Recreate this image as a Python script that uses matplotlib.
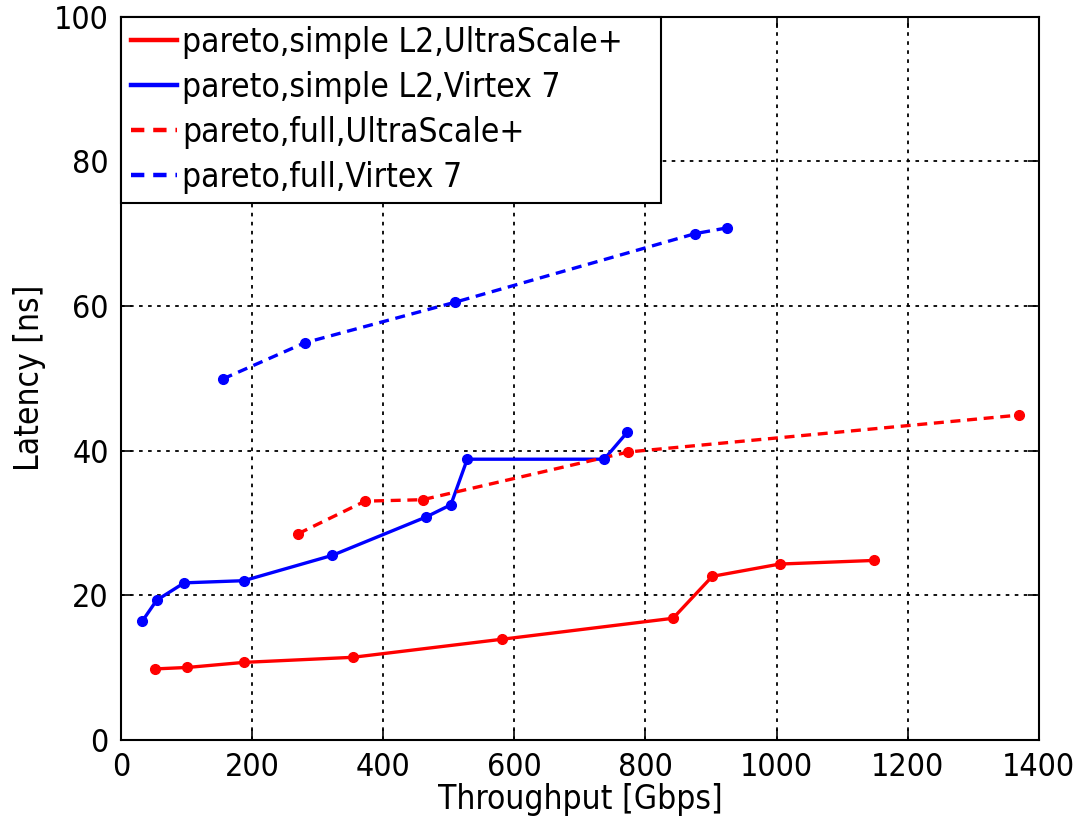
import matplotlib
matplotlib.use("Agg")
from matplotlib import pyplot as plt

# pareto,simple L2,UltraScale+
us_simple_x = [52, 101, 187, 353, 581, 842, 902, 1005, 1149]
us_simple_y = [9.8, 10.0, 10.7, 11.4, 13.9, 16.8, 22.6, 24.3, 24.8]
# pareto,simple L2,Virtex 7
v7_simple_x = [32, 54, 96, 187, 322, 465, 503, 528, 737, 772]
v7_simple_y = [16.4, 19.3, 21.7, 22.0, 25.5, 30.8, 32.5, 38.8, 38.8, 42.5]
# pareto,full,UltraScale+
us_full_x = [270, 372, 460, 774, 1370]
us_full_y = [28.5, 33.0, 33.2, 39.8, 44.9]
# pareto,full,Virtex 7
v7_full_x = [155, 280, 509, 876, 925]
v7_full_y = [49.9, 54.9, 60.5, 70.0, 70.8]

labels = ["pareto,simple L2,UltraScale+", "pareto,simple L2,Virtex 7",
          "pareto,full,UltraScale+", "pareto,full,Virtex 7"]

plt.rcParams['font.family'] = ["DejaVu Sans"]
plt.rcParams['font.stretch'] = "condensed"

fig = plt.figure(figsize=(10.83, 8.34), dpi=100)
ax = fig.add_axes([0.112, 0.113, 0.847, 0.867])

dash = (0, (3, 2))
series = [
    (us_simple_x, us_simple_y, "#ff0000", "-"),
    (v7_simple_x, v7_simple_y, "#0000ff", "-"),
    (us_full_x, us_full_y, "#ff0000", dash),
    (v7_full_x, v7_full_y, "#0000ff", dash),
]
handles = []
for (xs, ys, c, ls), lab in zip(series, labels):
    ax.plot(xs, ys, color=c, linestyle=ls, linewidth=2.4, zorder=3)
    ax.plot(xs, ys, color=c, linestyle="none", marker="o", markersize=7, zorder=4)
    h, = ax.plot([], [], color=c, linestyle=ls, linewidth=3.2, label=lab)
    handles.append(h)

ax.set_xlim(0, 1400)
ax.set_ylim(0, 100)
ax.set_xticks(range(0, 1401, 200))
ax.set_yticks(range(0, 101, 20))
ax.grid(True, color="black", linestyle=(0, (2, 3)), linewidth=1.3)
ax.tick_params(direction="in", length=8, width=1.2, labelsize=23,
               top=True, right=True, pad=9)
for s in ax.spines.values():
    s.set_linewidth(1.5)

ax.set_xlabel("Throughput [Gbps]", fontsize=24, labelpad=0)
ax.set_ylabel("Latency [ns]", fontsize=24, labelpad=6)

# legend box stretched to the width seen in the original
leg = ax.legend(handles=handles, loc="upper left",
                bbox_to_anchor=(0, 1, 0.588, 0), mode="expand",
                fontsize=24, frameon=True, fancybox=False, borderaxespad=0,
                handlelength=1.4, handletextpad=0.15, labelspacing=0.36,
                borderpad=0.28, framealpha=1)
leg.get_frame().set_edgecolor("black")
leg.get_frame().set_linewidth(1.5)

fig.savefig("out.png", dpi=100)
